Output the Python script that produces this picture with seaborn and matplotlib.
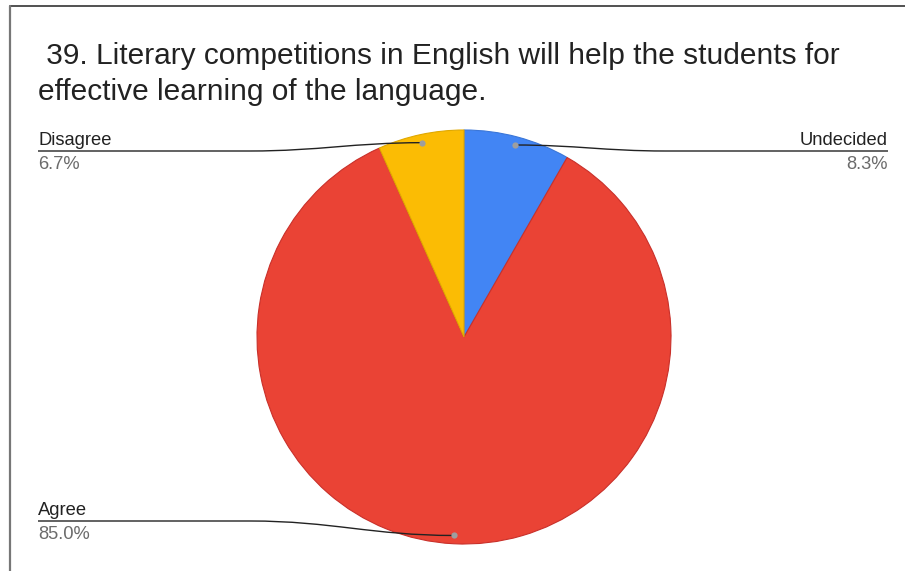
import matplotlib
matplotlib.use("Agg")
import matplotlib.pyplot as plt
from matplotlib.path import Path
from matplotlib.patches import PathPatch
from matplotlib.lines import Line2D
import numpy as np
import seaborn as sns

# Survey responses, in drawing order (clockwise from 12 o'clock)
categories = ["Undecided", "Agree", "Disagree"]
shares = [8.3, 85.0, 6.7]
pct_labels = ["8.3%", "85.0%", "6.7%"]
colors = ["#4285F4", "#EA4335", "#FBBC04"]
edges = ["#3a76d8", "#c9302a", "#e0a800"]
title = " 39. Literary competitions in English will help the students for\neffective learning of the language."

sns.set_theme(style="white")
plt.rcParams["font.family"] = ["Liberation Sans", "DejaVu Sans"]

W, H = 905, 571
fig = plt.figure(figsize=(W / 100, H / 100), dpi=100)
ax = fig.add_axes([0, 0, 1, 1])

cx, cy, R = 464, H - 337, 207
wedges, _ = ax.pie(shares, colors=colors, startangle=90, counterclock=False,
                   radius=R, center=(cx, cy), frame=True,
                   wedgeprops=dict(linewidth=0.8))
for w, ec in zip(wedges, edges):
    w.set_edgecolor(ec)
ax.set_xlim(0, W)
ax.set_ylim(0, H)
ax.set_aspect("equal")
ax.axis("off")

# Label anchors: (side, line y in px from top, horizontal run start, run end)
layout = {
    "Undecided": ("right", 151, 888, 665),
    "Agree": ("left", 521, 38, 250),
    "Disagree": ("left", 151, 38, 250),
}

for w, name, pct in zip(wedges, categories, pct_labels):
    mid = np.deg2rad((w.theta1 + w.theta2) / 2)
    px, py = cx + 0.96 * R * np.cos(mid), cy + 0.96 * R * np.sin(mid)
    side, ly, x_end, x_join = layout[name]
    yl = H - ly
    dx = (px - x_join)
    verts = [(x_end, yl), (x_join, yl),
             (x_join + dx * 0.4, yl), (px - dx * 0.4, py), (px, py)]
    codes = [Path.MOVETO, Path.LINETO, Path.CURVE4, Path.CURVE4, Path.CURVE4]
    ax.add_patch(PathPatch(Path(verts, codes), fill=False, edgecolor="#222222",
                           linewidth=1.0, zorder=3))
    ax.plot([px], [py], marker="o", markersize=4.5, color="#9e9e9e",
            markeredgewidth=0, zorder=4)
    ha = "left" if side == "left" else "right"
    ax.text(x_end, yl + 6, name, ha=ha, va="baseline", fontsize=13.2,
            color="#222222")
    ax.text(x_end, yl - 5, pct, ha=ha, va="top", fontsize=13.2,
            color="#6b6b6b")

ax.text(38, H - 100, title, ha="left", va="baseline", fontsize=21.5,
        color="#222222", linespacing=1.36)

# Frame edges along top and left
fig.add_artist(Line2D([10 / W, 1], [1 - 6 / H, 1 - 6 / H],
                      transform=fig.transFigure, color="#333333", linewidth=1.2))
fig.add_artist(Line2D([10 / W, 10 / W], [0, 1 - 6 / H],
                      transform=fig.transFigure, color="#777777", linewidth=1.6))

fig.savefig("out.png", dpi=100)
